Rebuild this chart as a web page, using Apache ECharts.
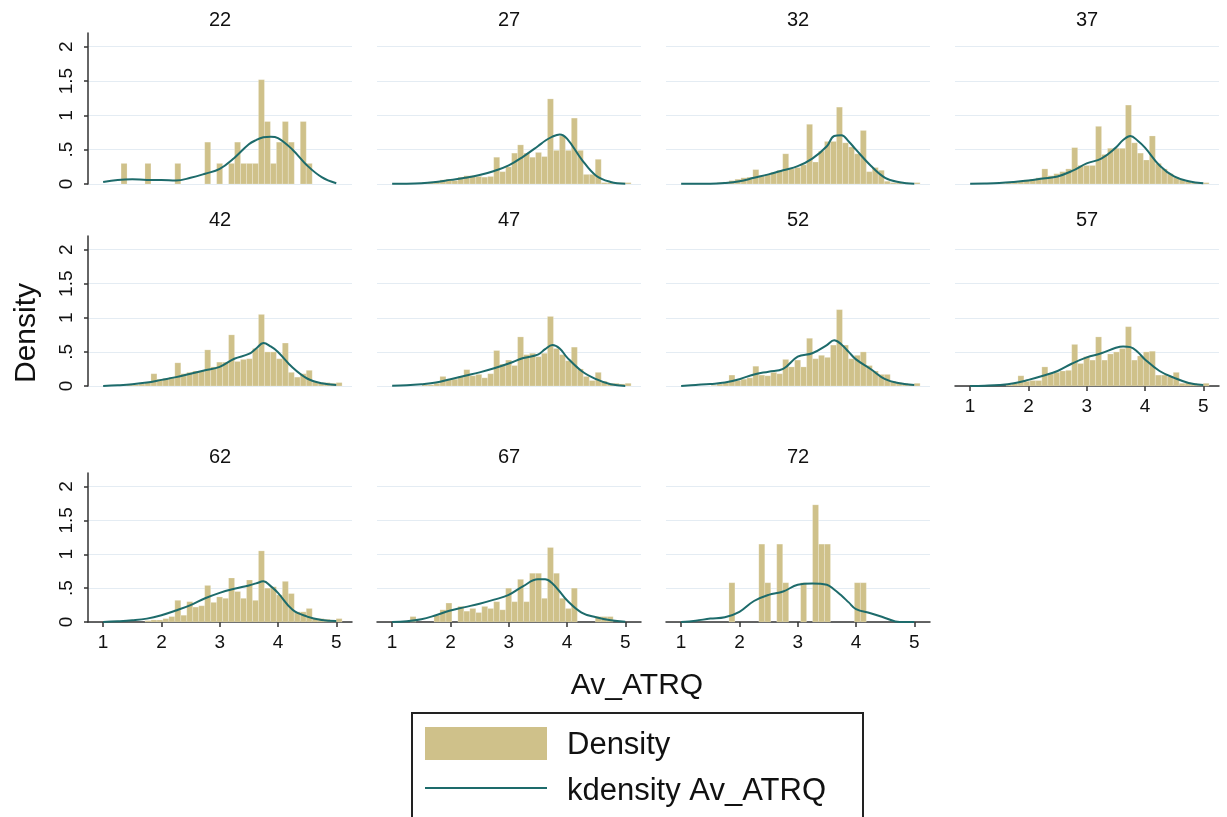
<!DOCTYPE html>
<html>
<head>
<meta charset="utf-8">
<script src="https://cdn.jsdelivr.net/npm/echarts@6.0.0/dist/echarts.min.js"></script>
<style>
html, body { margin: 0; padding: 0; background: #fff; }
#chart { width: 1227px; height: 817px; }
</style>
</head>
<body>
<div id="chart"></div>
<script>
// ===== data =====
var panelTitles = ['22', '27', '32', '37', '42', '47', '52', '57', '62', '67', '72'];
var binStart = 1.0;
var binWidth = 0.1025;
var xTicks = [1, 2, 3, 4, 5];
var yTicks = [0, 0.5, 1, 1.5, 2];

// histogram densities, one value per bin (40 bins from 1.0)
var hist22 = [0,0,0,0.3,0,0,0,0.3,0,0, 0,0,0.3,0,0,0,0,0.61,0,0.3, 0,0.3,0.61,0.3,0.3,0.3,1.52,0.91,0.3,0.61, 0.91,0.61,0,0.91,0.3,0,0,0,0,0];
var hist27 = [0,0,0,0,0.01,0.02,0.03,0.04,0.06,0.07, 0.05,0.1,0.12,0.12,0.11,0.1,0.11,0.39,0.18,0.25, 0.45,0.57,0.45,0.39,0.46,0.4,1.24,0.49,0.7,0.49, 0.96,0.49,0.14,0.14,0.36,0.02,0.02,0.02,0.02,0.02];
var hist32 = [0,0,0,0,0,0.01,0.02,0.03,0.05,0.07, 0.09,0.1,0.21,0.12,0.14,0.17,0.2,0.44,0.22,0.24, 0.28,0.87,0.32,0.48,0.62,0.62,1.12,0.6,0.54,0.44, 0.78,0.18,0.24,0.2,0.04,0.02,0.02,0.02,0.01,0.02];
var hist37 = [0,0,0,0,0,0.01,0.02,0.03,0.04,0.06, 0.07,0.09,0.22,0.12,0.15,0.18,0.22,0.53,0.27,0.27, 0.27,0.84,0.43,0.52,0.52,0.52,1.15,0.6,0.45,0.35, 0.7,0.3,0.22,0.15,0.1,0.06,0.04,0.02,0.02,0.02];
var hist42 = [0,0,0,0.01,0.02,0.02,0.03,0.05,0.18,0.1, 0.11,0.13,0.34,0.18,0.2,0.22,0.22,0.53,0.28,0.35, 0.35,0.75,0.36,0.39,0.4,0.55,1.05,0.5,0.5,0.4, 0.63,0.2,0.13,0.18,0.23,0.06,0.05,0.05,0.04,0.05];
var hist47 = [0,0,0,0,0,0.02,0.02,0.04,0.14,0.09, 0.1,0.14,0.24,0.15,0.17,0.12,0.18,0.52,0.32,0.38, 0.3,0.72,0.46,0.48,0.43,0.48,1.02,0.55,0.46,0.37, 0.57,0.25,0.14,0.08,0.2,0.07,0.04,0.04,0.03,0.04];
var hist52 = [0,0,0,0,0,0.01,0.03,0.05,0.16,0.08, 0.1,0.12,0.29,0.16,0.15,0.2,0.18,0.39,0.28,0.38, 0.28,0.7,0.4,0.45,0.42,0.6,1.12,0.6,0.4,0.45, 0.5,0.3,0.22,0.17,0.17,0.07,0.05,0.04,0.03,0.04];
var hist57 = [0,0,0,0,0,0,0.02,0.04,0.15,0.07, 0.08,0.08,0.28,0.18,0.2,0.22,0.23,0.61,0.33,0.43, 0.38,0.72,0.38,0.47,0.5,0.55,0.87,0.38,0.44,0.5, 0.51,0.16,0.16,0.14,0.2,0.04,0.05,0.04,0.03,0.04];
var hist62 = [0,0,0,0,0,0,0,0.02,0.03,0.03, 0.05,0.08,0.32,0.1,0.3,0.22,0.24,0.54,0.29,0.37, 0.35,0.65,0.45,0.35,0.62,0.32,1.05,0.5,0.52,0.4, 0.6,0.42,0.15,0.15,0.2,0.05,0.05,0.04,0.02,0.05];
var hist67 = [0,0,0,0.08,0,0,0,0.1,0.18,0.28, 0,0.23,0.16,0.2,0.14,0.23,0.2,0.3,0.18,0.5, 0.3,0.63,0.3,0.72,0.72,0.35,1.1,0.72,0.35,0.2, 0.5,0,0,0,0.08,0.08,0.08,0,0,0];
var hist72 = [0,0,0,0,0,0,0,0,0.58,0, 0,0,0,1.15,0.58,0,1.15,0.58,0,0, 0.58,0,1.73,1.15,1.15,0,0,0,0,0.58, 0.58,0,0,0,0,0,0,0,0,0];

// kernel density curves, read at these x values
var kdX = [1, 1.25, 1.5, 1.75, 2, 2.25, 2.5, 2.75, 3, 3.25, 3.5, 3.625, 3.75, 3.875, 4, 4.25, 4.5, 4.75, 5];
var kd22 = [0.03,0.06,0.07,0.06,0.06,0.05,0.09,0.15,0.22,0.38,0.58,0.64,0.68,0.69,0.67,0.5,0.27,0.1,0.01];
var kd27 = [0.005,0.005,0.01,0.03,0.06,0.09,0.13,0.19,0.27,0.4,0.55,0.63,0.69,0.72,0.66,0.36,0.12,0.03,0.005];
var kd32 = [0.005,0.005,0.005,0.015,0.04,0.09,0.14,0.2,0.26,0.37,0.55,0.7,0.71,0.62,0.5,0.27,0.09,0.025,0.005];
var kd37 = [0.005,0.008,0.015,0.03,0.05,0.08,0.11,0.19,0.3,0.37,0.53,0.64,0.7,0.63,0.53,0.27,0.11,0.04,0.01];
var kd42 = [0,0.01,0.025,0.05,0.09,0.13,0.18,0.23,0.28,0.4,0.47,0.55,0.63,0.58,0.5,0.27,0.11,0.04,0.015];
var kd47 = [0.005,0.01,0.025,0.05,0.1,0.15,0.2,0.26,0.33,0.41,0.46,0.54,0.6,0.55,0.42,0.22,0.1,0.025,0];
var kd52 = [0,0.015,0.03,0.05,0.1,0.17,0.21,0.25,0.43,0.48,0.6,0.67,0.61,0.5,0.39,0.25,0.1,0.04,0.015];
var kd57 = [0,0.005,0.015,0.04,0.09,0.15,0.22,0.33,0.42,0.48,0.56,0.58,0.57,0.5,0.39,0.22,0.12,0.045,0.015];
var kd62 = [0,0.01,0.025,0.05,0.1,0.17,0.25,0.35,0.43,0.49,0.54,0.57,0.6,0.53,0.43,0.18,0.08,0.03,0.015];
var kd67 = [0,0.01,0.04,0.1,0.17,0.22,0.27,0.33,0.4,0.53,0.63,0.63,0.57,0.45,0.32,0.14,0.07,0.025,0.005];
var kd72 = [0,0.02,0.05,0.07,0.15,0.31,0.4,0.45,0.55,0.57,0.55,0.48,0.39,0.29,0.19,0.13,0.06,0,0];

var hists = [hist22, hist27, hist32, hist37, hist42, hist47, hist52, hist57, hist62, hist67, hist72];
var kds = [kd22, kd27, kd32, kd37, kd42, kd47, kd52, kd57, kd62, kd67, kd72];

// ===== layout / style =====
var colLeft = [88, 377, 666, 955];
var rowTop = [33, 236, 473];
var rowHeight = [151, 150, 149];
var titleY = [21, 221, 458];
var panelW = 264;
var withXAxis = [7, 8, 9, 10];
var FONT = 'Liberation Sans, Arial, sans-serif';
var barColor = '#cfc18a';
var lineColor = '#1d6b6b';
var gridColor = '#e4ecf3';

var chart = echarts.init(document.getElementById('chart'));

function renderBar(params, api) {
    var p0 = api.coord([api.value(0), api.value(2)]);
    var p1 = api.coord([api.value(1), 0]);
    return {
        type: 'rect',
        shape: { x: p0[0], y: p0[1], width: p1[0] - p0[0], height: p1[1] - p0[1] },
        style: { fill: barColor, stroke: 'rgba(255,255,255,0.35)', lineWidth: 0.6 }
    };
}

function yLabel(v) {
    if (v === 0) return '0';
    return String(v).replace(/^0\./, '.');
}

var grids = [], xAxes = [], yAxes = [], series = [], titles = [];
for (var i = 0; i < panelTitles.length; i++) {
    var row = Math.floor(i / 4), col = i % 4;
    var showX = withXAxis.indexOf(i) >= 0;
    var showY = col === 0;
    grids.push({ left: colLeft[col], top: rowTop[row], width: panelW, height: rowHeight[row] });
    titles.push({
        text: panelTitles[i], left: colLeft[col] + panelW / 2, top: titleY[row] - 11,
        textAlign: 'center', padding: 0,
        textStyle: { fontSize: 20, fontWeight: 'normal', color: '#111', fontFamily: FONT }
    });
    xAxes.push({
        type: 'value', gridIndex: i, min: 0.74, max: 5.27,
        axisLine: { show: showX, onZero: false, lineStyle: { color: '#333', width: 1.5 } },
        axisTick: { show: showX, customValues: xTicks, length: 5, lineStyle: { color: '#333', width: 1.5 } },
        axisLabel: { show: showX, customValues: xTicks, margin: 11, fontSize: 19, color: '#111', fontFamily: FONT },
        splitLine: { show: false }
    });
    yAxes.push({
        type: 'value', gridIndex: i, min: 0, max: 2.2,
        axisLine: { show: showY, lineStyle: { color: '#333', width: 1.5 } },
        axisTick: { show: showY, customValues: yTicks, length: 4, lineStyle: { color: '#333', width: 1.5 } },
        axisLabel: { show: showY, customValues: yTicks, rotate: 90, margin: 12, fontSize: 19, color: '#111', fontFamily: FONT, formatter: yLabel },
        splitLine: { show: true, lineStyle: { color: gridColor, width: 1 } }
    });
    var bars = [];
    hists[i].forEach(function (h, k) {
        if (h > 0) bars.push([binStart + k * binWidth, binStart + (k + 1) * binWidth, h]);
    });
    series.push({
        name: 'Density', type: 'custom', xAxisIndex: i, yAxisIndex: i,
        renderItem: renderBar, data: bars, encode: { x: [0, 1], y: 2 },
        itemStyle: { color: barColor }, silent: true, z: 2
    });
    var kd = kds[i];
    series.push({
        name: 'kdensity Av_ATRQ', type: 'line', xAxisIndex: i, yAxisIndex: i,
        data: kdX.map(function (x, j) { return [x, kd[j]]; }),
        smooth: 0.4, symbol: 'none', silent: true, z: 3,
        lineStyle: { color: lineColor, width: 2 }, itemStyle: { color: lineColor }
    });
}

var option = {
    animation: false,
    backgroundColor: '#fff',
    title: titles,
    grid: grids,
    xAxis: xAxes,
    yAxis: yAxes,
    series: series,
    graphic: [
        { type: 'text', x: 27, y: 333, rotation: Math.PI / 2,
          style: { text: 'Density', fontSize: 30, fill: '#111', fontFamily: FONT, align: 'center', verticalAlign: 'middle' } },
        { type: 'text', x: 637, y: 686,
          style: { text: 'Av_ATRQ', fontSize: 30, fill: '#111', fontFamily: FONT, align: 'center', verticalAlign: 'middle' } },
        // legend box
        { type: 'rect', shape: { x: 412, y: 713, width: 451, height: 130 },
          style: { fill: '#fff', stroke: '#222', lineWidth: 2 } },
        { type: 'rect', shape: { x: 425, y: 727, width: 122, height: 33 },
          style: { fill: barColor } },
        { type: 'line', shape: { x1: 425, y1: 788, x2: 547, y2: 788 },
          style: { stroke: lineColor, lineWidth: 2 } },
        { type: 'text', x: 567, y: 745,
          style: { text: 'Density', fontSize: 31, fill: '#111', fontFamily: FONT, align: 'left', verticalAlign: 'middle' } },
        { type: 'text', x: 567, y: 791,
          style: { text: 'kdensity Av_ATRQ', fontSize: 31, fill: '#111', fontFamily: FONT, align: 'left', verticalAlign: 'middle' } }
    ]
};
chart.setOption(option);
</script>
</body>
</html>
